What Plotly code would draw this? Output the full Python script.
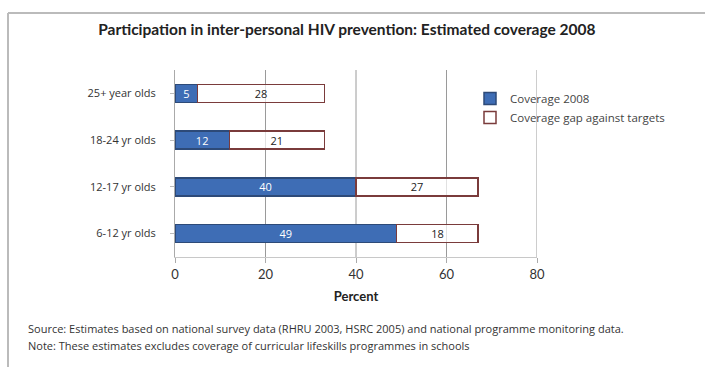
import plotly.graph_objects as go

categories = ["6-12 yr olds", "12-17 yr olds", "18-24 yr olds", "25+ year olds"]
coverage_2008 = [49, 40, 12, 5]
coverage_gap = [18, 27, 21, 28]
x_ticks = [0, 20, 40, 60, 80]

W, H = 705, 367
L, R, T, B = 175, 168, 70, 110
pw, ph = W - L - R, H - T - B

def px_x(x):
    return (x - L) / pw

def px_y(y):
    return (H - B - y) / ph

FONT = "Lato, 'Open Sans', sans-serif"
SMALL = "'Open Sans', Lato, sans-serif"

fig = go.Figure()
fig.add_trace(go.Bar(
    y=categories, x=coverage_2008, orientation="h", name="Coverage 2008",
    marker=dict(color="#3E6DB5", line=dict(color="#2D4A78", width=1.5)),
    text=coverage_2008, textposition="inside", insidetextanchor="middle", textangle=0,
    constraintext="none",
    textfont=dict(color="white", size=11, family=SMALL),
))
fig.add_trace(go.Bar(
    y=categories, x=coverage_gap, orientation="h", name="Coverage gap against targets",
    marker=dict(color="rgba(255,255,255,0.7)", line=dict(color="#7A3B3B", width=1.5)),
    text=coverage_gap, textposition="inside", insidetextanchor="middle", textangle=0,
    constraintext="none",
    textfont=dict(color="#222222", size=11, family=SMALL),
))

fig.update_layout(
    template="none",
    width=W, height=H, barmode="stack", bargap=0.62,
    margin=dict(l=L, r=R, t=T, b=B),
    paper_bgcolor="white", plot_bgcolor="white",
    font=dict(family=FONT, size=11, color="#333333"),
    uniformtext=dict(minsize=11, mode="show"),
    title=dict(text="<b>Participation in inter-personal HIV prevention: Estimated coverage 2008</b>",
               x=0.492, xanchor="center", y=1 - 30 / H, yanchor="middle",
               font=dict(size=15.5, color="#222222", family=FONT)),
    xaxis=dict(range=[0, 80], tickvals=x_ticks, showgrid=False,
               zeroline=False, showline=True, linecolor="#C8C8C8", linewidth=1,
               ticks="outside", ticklen=5, tickcolor="#AAAAAA",
               tickfont=dict(size=13, color="#333333"),
               title=dict(text="<b>Percent</b>", font=dict(size=13, color="#222222"), standoff=11)),
    yaxis=dict(showgrid=False, zeroline=False, showline=True, linecolor="#AAAAAA", linewidth=1,
               ticks="outside", ticklen=4, tickcolor="#BBBBBB", ticklabelstandoff=12,
               tickfont=dict(size=11, color="#333333", family=SMALL)),
    legend=dict(x=px_x(470), y=px_y(84), xanchor="left", yanchor="top", traceorder="normal",
                bgcolor="rgba(0,0,0,0)", font=dict(size=11.5, color="#444444", family=SMALL),
                tracegroupgap=0, itemwidth=30),
    showlegend=True,
)

# vertical gridlines at the tick values
for v in x_ticks[1:]:
    fig.add_shape(type="line", xref="x", yref="paper", x0=v, x1=v, y0=0, y1=1,
                  line=dict(color="#9A9A9A", width=1), layer="below")

fig.add_annotation(text="Source: Estimates based on national survey data (RHRU 2003, HSRC 2005) and national programme monitoring data.",
                   xref="paper", yref="paper", x=px_x(26), y=px_y(328), xanchor="left", yanchor="middle",
                   showarrow=False, font=dict(size=11, color="#333333", family=SMALL))
fig.add_annotation(text="Note: These estimates excludes coverage of curricular lifeskills programmes in schools",
                   xref="paper", yref="paper", x=px_x(26), y=px_y(345), xanchor="left", yanchor="middle",
                   showarrow=False, font=dict(size=11, color="#333333", family=SMALL))

# chart frame
fig.add_shape(type="line", xref="paper", yref="paper", x0=px_x(8), x1=px_x(705), y0=px_y(13), y1=px_y(13),
              line=dict(color="#BBBBBB", width=2))
fig.add_shape(type="line", xref="paper", yref="paper", x0=px_x(8), x1=px_x(8), y0=px_y(13), y1=px_y(367),
              line=dict(color="#BBBBBB", width=2))

fig.write_html("out.html")
